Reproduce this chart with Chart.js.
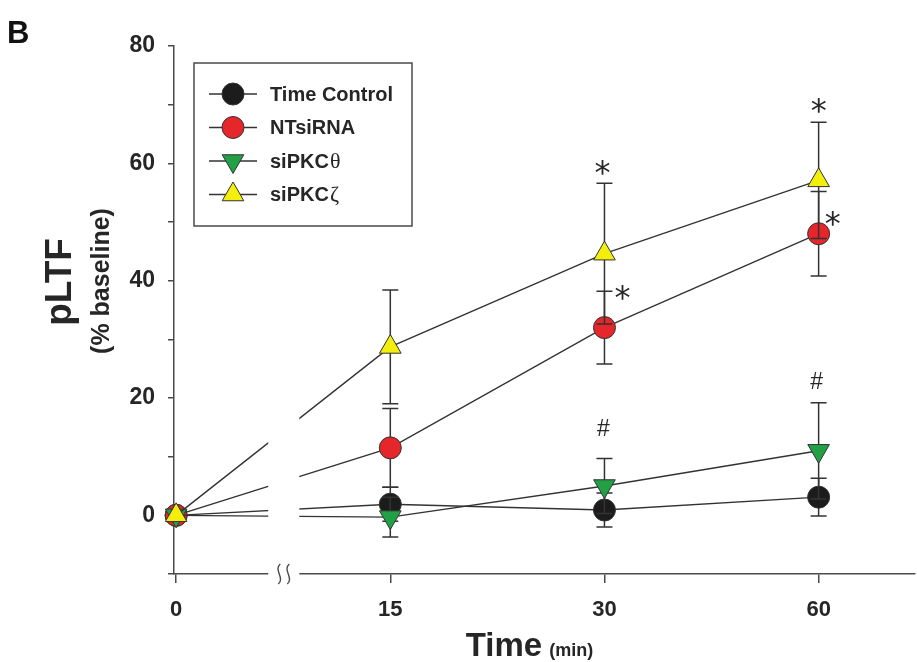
<!DOCTYPE html>
<html>
<head>
<meta charset="utf-8">
<script src="https://cdn.jsdelivr.net/npm/chart.js@4.4.1/dist/chart.umd.min.js"></script>
<style>
  html, body { margin: 0; padding: 0; background: #fff; }
</style>
</head>
<body>
<canvas id="pltf" width="917" height="662"></canvas>
<script>
// time points (equally spaced categories, axis break between 0 and 15)
const timeLabels = ['0', '15', '30', '60'];
const seriesNames = ['Time Control', 'NTsiRNA', 'siPKC\u03B8', 'siPKC\u03B6'];

const timeControl    = [0, 1.9, 0.9, 3.1];
const timeControlErr = [0, 2.9, 2.9, 3.2];
const ntsiRNA        = [0, 11.5, 32.0, 48.0];
const ntsiRNAErr     = [0, 6.7, 6.2, 7.2];
const siPKCtheta     = [0, -0.3, 5.0, 11.0];
const siPKCthetaErr  = [0, 3.4, 4.7, 8.2];
const siPKCzeta      = [0, 28.7, 44.6, 57.1];
const siPKCzetaErr   = [0, 9.7, 12.0, 9.9];

const yTicks = [0, 20, 40, 60, 80];

// significance marks: series index, point index, symbol (offset from top of error bar)
const sigMarks = [
  { s: 3, p: 2, text: '*', dx: -2, dy: -20 },
  { s: 3, p: 3, text: '*', dx: 0,  dy: -21 },
  { s: 1, p: 2, text: '*', dx: 18, dy: -3 },
  { s: 1, p: 3, text: '*', dx: 14, dy: 23 },
  { s: 2, p: 2, text: '#', dx: -1, dy: -30 },
  { s: 2, p: 3, text: '#', dx: -2, dy: -22 }
];

const SANS = "'Liberation Sans', Arial, sans-serif";
const INK = '#262626';
const AXIS = '#4a4a4a';

const seriesVals = [timeControl, ntsiRNA, siPKCtheta, siPKCzeta];
const seriesErr = [timeControlErr, ntsiRNAErr, siPKCthetaErr, siPKCzetaErr];
const fills = ['#1c1c1c', '#e5262b', '#21a045', '#f4ee0c'];
const styles = ['circle', 'circle', 'triangle', 'triangle'];
const rotations = [0, 0, 180, 0];
const radii = [11, 11, 12.5, 12.5];

function toPoints(vals) {
  return vals.map((v, i) => ({ x: i, y: v }));
}

function drawMarker(ctx, i, x, y) {
  const r = radii[i];
  ctx.save();
  ctx.fillStyle = fills[i];
  ctx.strokeStyle = '#333';
  ctx.lineWidth = 1;
  ctx.beginPath();
  if (styles[i] === 'circle') {
    ctx.arc(x, y, r, 0, Math.PI * 2);
  } else {
    const rot = rotations[i] * Math.PI / 180;
    for (let k = 0; k < 3; k++) {
      const a = rot + k * 2 * Math.PI / 3;
      const px = x + Math.sin(a) * r;
      const py = y - Math.cos(a) * r;
      if (k === 0) ctx.moveTo(px, py); else ctx.lineTo(px, py);
    }
    ctx.closePath();
  }
  ctx.fill();
  ctx.stroke();
  ctx.restore();
}

const errorBars = {
  id: 'errorBars',
  beforeDatasetDraw(chart, args) {
    const i = args.index;
    const ctx = chart.ctx;
    const xs = chart.scales.x, ys = chart.scales.y;
    ctx.save();
    ctx.strokeStyle = '#333';
    ctx.lineWidth = 1.5;
    seriesVals[i].forEach((v, p) => {
      const e = seriesErr[i][p];
      if (!e) return;
      const x = xs.getPixelForValue(p);
      const top = ys.getPixelForValue(v + e);
      const bot = ys.getPixelForValue(v - e);
      ctx.beginPath();
      ctx.moveTo(x, top); ctx.lineTo(x, bot);
      ctx.moveTo(x - 8, top); ctx.lineTo(x + 8, top);
      ctx.moveTo(x - 8, bot); ctx.lineTo(x + 8, bot);
      ctx.stroke();
    });
    ctx.restore();
  }
};

const axisBreak = {
  id: 'axisBreak',
  afterDatasetsDraw(chart) {
    const ctx = chart.ctx;
    const xs = chart.scales.x, ys = chart.scales.y;
    const x0 = xs.getPixelForValue(0.43), x1 = xs.getPixelForValue(0.575);
    const yTop = ys.getPixelForValue(22);
    const yAxis = chart.chartArea.bottom;
    ctx.save();
    ctx.fillStyle = '#fff';
    ctx.fillRect(x0, yTop, x1 - x0, yAxis - yTop + 2);
    ctx.strokeStyle = AXIS;
    ctx.lineWidth = 1.4;
    const mid = (x0 + x1) / 2;
    [mid - 4.5, mid + 4.5].forEach(cx => {
      ctx.beginPath();
      ctx.moveTo(cx + 1, yAxis - 10);
      ctx.bezierCurveTo(cx - 6, yAxis - 4, cx + 6, yAxis + 4, cx - 1, yAxis + 10);
      ctx.stroke();
    });
    ctx.restore();
  }
};

const decorations = {
  id: 'decorations',
  afterDraw(chart) {
    const ctx = chart.ctx;
    const xs = chart.scales.x, ys = chart.scales.y;
    const area = chart.chartArea;
    ctx.save();
    ctx.fillStyle = INK;

    // significance marks
    sigMarks.forEach(m => {
      const v = seriesVals[m.s][m.p] + seriesErr[m.s][m.p];
      const x = xs.getPixelForValue(m.p) + m.dx;
      const y = ys.getPixelForValue(v) + m.dy;
      ctx.textAlign = 'center';
      ctx.textBaseline = 'alphabetic';
      if (m.text === '*') {
        ctx.font = "32px 'DejaVu Sans', sans-serif";
        ctx.fillText('*', x, y + 20);
      } else {
        ctx.font = '23px ' + SANS;
        ctx.fillText('#', x, y + 8);
      }
    });

    // panel letter
    ctx.font = 'bold 31px ' + SANS;
    ctx.textAlign = 'left';
    ctx.fillStyle = '#111';
    ctx.fillText('B', 7, 43);

    // y axis title
    ctx.fillStyle = INK;
    ctx.save();
    ctx.translate(61, 282);
    ctx.rotate(-Math.PI / 2);
    ctx.textAlign = 'center';
    ctx.textBaseline = 'middle';
    ctx.font = 'bold 37px ' + SANS;
    ctx.fillText('pLTF', 0, 0);
    ctx.restore();
    ctx.save();
    ctx.translate(102, 281);
    ctx.rotate(-Math.PI / 2);
    ctx.textAlign = 'center';
    ctx.textBaseline = 'middle';
    ctx.font = 'bold 25px ' + SANS;
    ctx.fillText('(% baseline)', 0, 0);
    ctx.restore();

    // x axis title
    ctx.textBaseline = 'alphabetic';
    ctx.textAlign = 'left';
    ctx.font = 'bold 33px ' + SANS;
    const w1 = ctx.measureText('Time').width;
    ctx.font = 'bold 18px ' + SANS;
    const w2 = ctx.measureText('(min)').width;
    const cx = xs.getPixelForValue(1.65);
    const start = cx - (w1 + 7 + w2) / 2;
    ctx.font = 'bold 33px ' + SANS;
    ctx.fillText('Time', start, 656);
    ctx.font = 'bold 18px ' + SANS;
    ctx.fillText('(min)', start + w1 + 7, 656);

    // legend
    const bx = area.left + 20, by = area.top + 17, bw = 218, bh = 163;
    ctx.strokeStyle = AXIS;
    ctx.lineWidth = 1.5;
    ctx.strokeRect(bx, by, bw, bh);
    seriesNames.forEach((name, i) => {
      const ry = by + 31 + i * 33.5;
      ctx.strokeStyle = '#333';
      ctx.lineWidth = 1.3;
      ctx.beginPath();
      ctx.moveTo(bx + 15, ry); ctx.lineTo(bx + 63, ry);
      ctx.stroke();
      drawMarker(ctx, i, bx + 39, ry);
      ctx.fillStyle = INK;
      ctx.textBaseline = 'middle';
      ctx.textAlign = 'left';
      const greek = i >= 2 ? name.slice(-1) : '';
      const base = i >= 2 ? name.slice(0, -1) : name;
      ctx.font = 'bold 20px ' + SANS;
      ctx.fillText(base, bx + 76, ry + 1);
      if (greek) {
        const w = ctx.measureText(base).width;
        ctx.font = "22px 'Liberation Serif', serif";
        ctx.fillText(greek, bx + 77 + w, ry + 1);
      }
    });
    ctx.restore();
  }
};

const datasets = seriesNames.map((name, i) => ({
  label: name,
  data: toPoints(seriesVals[i]),
  borderColor: '#333',
  borderWidth: 1.4,
  backgroundColor: fills[i],
  pointBackgroundColor: fills[i],
  pointBorderColor: '#333',
  pointBorderWidth: 1,
  pointStyle: styles[i],
  pointRotation: rotations[i],
  pointRadius: radii[i],
  pointHoverRadius: radii[i],
  tension: 0,
  fill: false,
  clip: false,
  order: 4 - i
}));

new Chart(document.getElementById('pltf'), {
  type: 'line',
  data: { datasets },
  options: {
    responsive: false,
    animation: false,
    events: [],
    layout: { autoPadding: false, padding: { left: 0, top: 46, right: 2, bottom: 0 } },
    plugins: { legend: { display: false }, tooltip: { enabled: false } },
    scales: {
      x: {
        type: 'linear',
        min: -0.01,
        max: 3.45,
        afterBuildTicks(scale) {
          scale.ticks = timeLabels.map((_, i) => ({ value: i }));
        },
        afterFit(scale) {
          scale.height = 88;
          scale.paddingLeft = 0;
          scale.paddingRight = 0;
        },
        border: { display: true, color: AXIS, width: 1.5 },
        grid: { drawOnChartArea: false, drawTicks: true, tickLength: 9, color: AXIS, lineWidth: 1.5 },
        ticks: {
          padding: 14,
          color: INK,
          font: { family: SANS, size: 22, weight: 'bold' },
          callback: v => timeLabels[v]
        }
      },
      y: {
        min: -10,
        max: 80,
        afterFit(scale) {
          scale.width = 174;
        },
        border: { display: true, color: AXIS, width: 1.5 },
        grid: { drawOnChartArea: false, drawTicks: true, tickLength: 6, color: AXIS, lineWidth: 1.5 },
        ticks: {
          stepSize: 10,
          padding: 13,
          color: INK,
          font: { family: SANS, size: 23, weight: 'bold' },
          callback: v => (yTicks.includes(v) ? String(v) : '')
        }
      }
    }
  },
  plugins: [errorBars, axisBreak, decorations]
});
</script>
</body>
</html>
